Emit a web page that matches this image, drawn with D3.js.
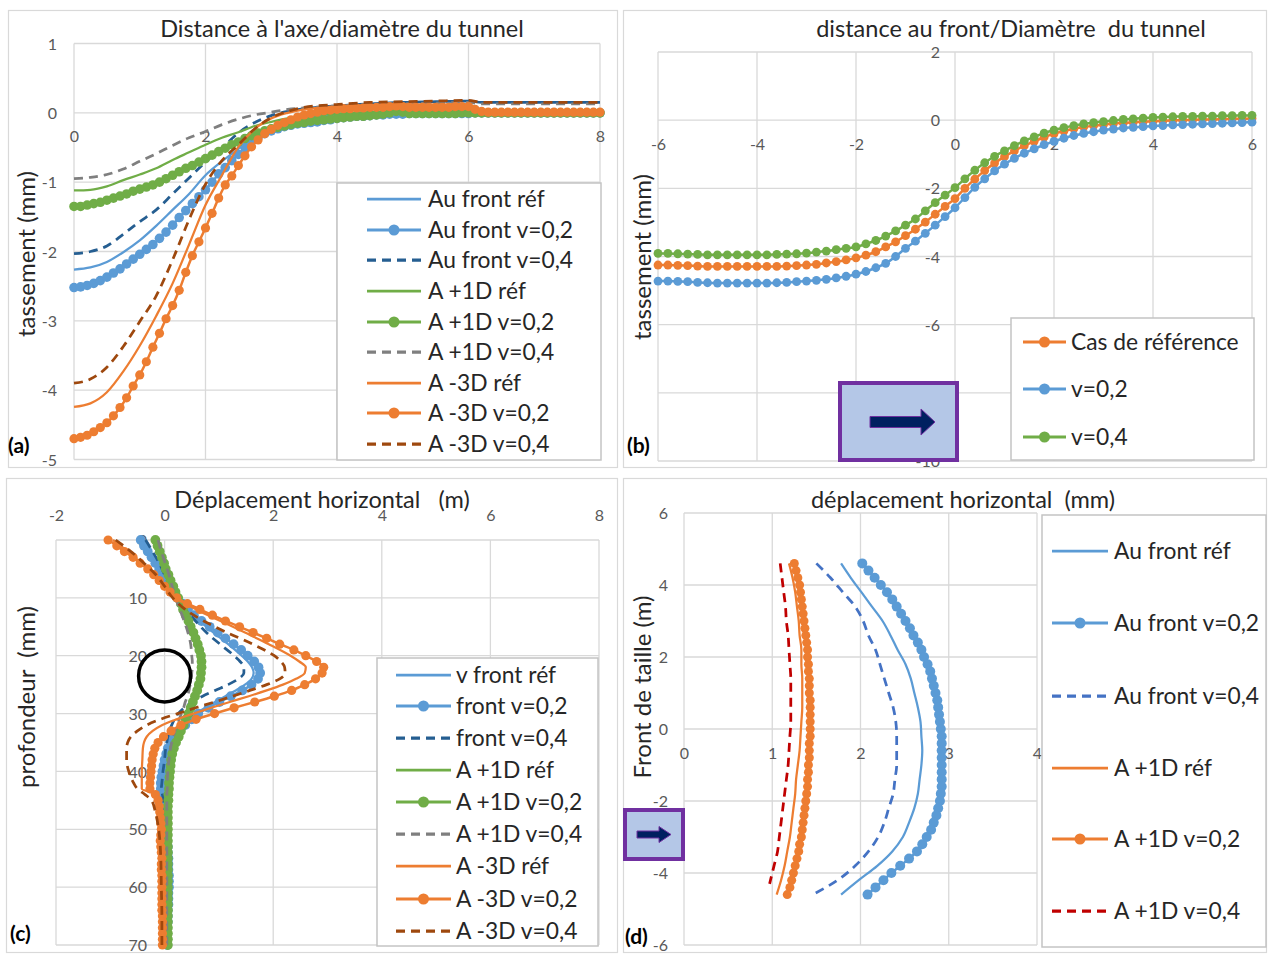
<!DOCTYPE html>
<html><head><meta charset="utf-8">
<script src="https://cdn.jsdelivr.net/npm/d3@7"></script>
<style>body{margin:0;background:#fff}svg{display:block}text{white-space:pre}</style>
</head><body>
<script>
// ---------------- DATA ----------------
// Panel (a): tassement vs distance à l'axe / diamètre
const aXTicks = [0, 2, 4, 6, 8];
const aYTicks = [1, 0, -1, -2, -3, -4, -5];
const aXf = [0,0.1,0.2,0.3,0.4,0.5,0.6,0.7,0.8,0.9,1,1.1,1.2,1.3,1.4,1.5,1.6,1.7,1.8,1.9,2,2.1,2.2,2.3,2.4,2.5,2.6,2.7,2.8,2.9,3,3.1,3.2,3.3,3.4,3.5,3.6,3.7,3.8,3.9,4,4.1,4.2,4.3,4.4,4.5,4.6,4.7,4.8,4.9,5,5.1,5.2,5.3,5.4,5.5,5.6,5.7,5.8,5.9,6,6.1,6.2,6.3,6.4,6.5,6.6,6.7,6.8,6.9,7,7.1,7.2,7.3,7.4,7.5,7.6,7.7,7.8,7.9,8];
const aXc = [0,0.25,0.5,0.75,1,1.25,1.5,1.75,2,2.25,2.5,2.75,3,3.25,3.5,4,4.5,5,5.5,6,6.2,7,8];
const aFrontRef = [-2.26,-2.23,-2.15,-2.01,-1.84,-1.63,-1.40,-1.17,-0.90,-0.70,-0.52,-0.33,-0.21,-0.13,-0.08,-0.03,0.01,0.03,0.04,0.05,0.01,0.00,0.00];
const aFrontV2 = [-2.52,-2.51,-2.49,-2.46,-2.42,-2.37,-2.31,-2.25,-2.18,-2.11,-2.04,-1.97,-1.90,-1.81,-1.72,-1.62,-1.51,-1.41,-1.31,-1.21,-1.11,-1.00,-0.88,-0.79,-0.69,-0.60,-0.50,-0.41,-0.35,-0.30,-0.26,-0.23,-0.20,-0.18,-0.16,-0.15,-0.14,-0.13,-0.11,-0.10,-0.08,-0.07,-0.06,-0.05,-0.05,-0.04,-0.03,-0.03,-0.02,-0.02,-0.02,-0.01,-0.01,-0.01,-0.01,-0.01,-0.01,-0.01,-0.01,-0.01,-0.01,0,0,0,0,0,0,0,0,0,0,0,0,0,0,0,0,0,0,0,0];
const aFrontV4 = [-2.03,-2.00,-1.92,-1.75,-1.57,-1.40,-1.17,-0.94,-0.71,-0.51,-0.29,-0.14,-0.04,0.02,0.06,0.10,0.13,0.15,0.16,0.17,0.15,0.15,0.15];
const aP1Ref = [-1.12,-1.11,-1.06,-0.97,-0.89,-0.80,-0.68,-0.57,-0.46,-0.36,-0.28,-0.19,-0.13,-0.08,-0.05,-0.01,0.01,0.02,0.02,0.03,0.00,0.00,0.00];
const aP1V2 = [-1.35,-1.35,-1.33,-1.31,-1.29,-1.26,-1.23,-1.20,-1.17,-1.13,-1.10,-1.07,-1.04,-1.00,-0.95,-0.90,-0.85,-0.80,-0.76,-0.71,-0.66,-0.61,-0.56,-0.51,-0.46,-0.42,-0.37,-0.33,-0.29,-0.26,-0.23,-0.21,-0.19,-0.17,-0.15,-0.14,-0.12,-0.11,-0.10,-0.09,-0.08,-0.07,-0.06,-0.05,-0.05,-0.04,-0.03,-0.02,0.00,0.02,0.01,-0.01,-0.01,-0.01,-0.01,-0.01,-0.01,-0.01,-0.01,0.00,0,0,0,0,0,0,0,0,0,0,0,0,0,0,0,0,0,0,0,0,0];
const aP1V4 = [-0.95,-0.93,-0.89,-0.81,-0.70,-0.59,-0.47,-0.36,-0.27,-0.17,-0.09,-0.03,0.01,0.05,0.07,0.10,0.12,0.13,0.14,0.15,0.13,0.13,0.13];
const aM3Ref = [-4.24,-4.19,-4.03,-3.73,-3.36,-2.93,-2.46,-1.90,-1.33,-0.90,-0.49,-0.23,-0.08,0.00,0.05,0.09,0.11,0.12,0.12,0.12,0.03,0.02,0.02];
const aM3V2 = [-4.70,-4.68,-4.65,-4.60,-4.54,-4.47,-4.37,-4.25,-4.11,-3.94,-3.78,-3.59,-3.38,-3.18,-2.97,-2.78,-2.56,-2.30,-2.06,-1.86,-1.66,-1.45,-1.23,-1.04,-0.91,-0.76,-0.62,-0.49,-0.39,-0.30,-0.24,-0.18,-0.14,-0.10,-0.06,-0.03,-0.01,0.01,0.03,0.04,0.05,0.06,0.06,0.07,0.07,0.08,0.08,0.08,0.09,0.10,0.09,0.08,0.08,0.08,0.08,0.08,0.08,0.08,0.09,0.09,0.09,0.05,0.02,0.01,0.01,0.01,0.01,0.01,0.01,0.01,0.01,0.01,0.01,0.01,0.01,0.01,0.01,0.01,0.01,0.01,0.01];
const aM3V4 = [-3.90,-3.84,-3.67,-3.37,-3.01,-2.64,-2.12,-1.54,-1.03,-0.69,-0.46,-0.23,-0.07,0.02,0.08,0.12,0.15,0.16,0.17,0.18,0.15,0.15,0.15];
const aNames = ["Au front réf","Au front v=0,2","Au front v=0,4","A +1D réf","A +1D v=0,2","A +1D v=0,4","A -3D réf","A -3D v=0,2","A -3D v=0,4"];

// Panel (b): tassement vs distance au front / diamètre
const bXTicks = [-6, -4, -2, 0, 2, 4, 6];
const bYTicks = [2, 0, -2, -4, -6, -8, -10];
const bX = [-6,-5.8,-5.6,-5.4,-5.2,-5,-4.8,-4.6,-4.4,-4.2,-4,-3.8,-3.6,-3.4,-3.2,-3,-2.8,-2.6,-2.4,-2.2,-2,-1.8,-1.6,-1.4,-1.2,-1,-0.8,-0.6,-0.4,-0.2,0,0.2,0.4,0.6,0.8,1,1.2,1.4,1.6,1.8,2,2.2,2.4,2.6,2.8,3,3.2,3.4,3.6,3.8,4,4.2,4.4,4.6,4.8,5,5.2,5.4,5.6,5.8,6];
const bRef = [-4.25,-4.25,-4.26,-4.27,-4.28,-4.29,-4.29,-4.29,-4.29,-4.29,-4.29,-4.29,-4.29,-4.28,-4.27,-4.25,-4.23,-4.19,-4.15,-4.10,-4.04,-3.96,-3.86,-3.72,-3.57,-3.39,-3.20,-2.99,-2.76,-2.53,-2.30,-2.00,-1.73,-1.48,-1.26,-1.07,-0.90,-0.75,-0.62,-0.50,-0.40,-0.32,-0.25,-0.20,-0.16,-0.13,-0.10,-0.08,-0.06,-0.05,-0.03,-0.02,-0.01,0.00,0.01,0.02,0.02,0.03,0.04,0.04,0.05];
const bV2 = [-4.72,-4.72,-4.73,-4.74,-4.76,-4.77,-4.78,-4.78,-4.78,-4.78,-4.78,-4.78,-4.77,-4.76,-4.74,-4.72,-4.70,-4.67,-4.63,-4.58,-4.52,-4.44,-4.33,-4.20,-4.00,-3.76,-3.55,-3.32,-3.08,-2.83,-2.57,-2.27,-1.97,-1.72,-1.49,-1.29,-1.12,-0.97,-0.84,-0.72,-0.62,-0.53,-0.45,-0.39,-0.34,-0.29,-0.26,-0.23,-0.21,-0.19,-0.17,-0.16,-0.14,-0.13,-0.12,-0.11,-0.10,-0.09,-0.08,-0.07,-0.06];
const bV4 = [-3.91,-3.91,-3.92,-3.93,-3.94,-3.95,-3.95,-3.95,-3.95,-3.95,-3.95,-3.95,-3.94,-3.93,-3.92,-3.90,-3.87,-3.84,-3.80,-3.76,-3.72,-3.63,-3.53,-3.40,-3.25,-3.08,-2.90,-2.66,-2.42,-2.20,-1.98,-1.72,-1.47,-1.25,-1.06,-0.90,-0.75,-0.61,-0.49,-0.38,-0.29,-0.22,-0.16,-0.11,-0.07,-0.04,-0.01,0.02,0.04,0.06,0.08,0.09,0.10,0.11,0.11,0.12,0.12,0.13,0.13,0.14,0.14];
const bNames = ["Cas de référence","v=0,2","v=0,4"];

// Panel (c): profondeur vs déplacement horizontal
const cXTicks = [-2, 0, 2, 4, 6, 8];
const cYTicks = [0, 10, 20, 30, 40, 50, 60, 70];
const cDm = [0,1,2,3,4,5,6,7,8,9,10,11,12,13,14,15,16,17,18,19,20,21,22,23,24,25,26,27,28,29,30,31,32,33,34,35,36,37,38,39,40,41,42,43,44,45,46,47,48,49,50,51,52,53,54,55,56,57,58,59,60,61,62,63,64,65,66,67,68,69,70];
const cDl = [0,2,4,6,8,10,12,14,16,18,20,21,22,23,24,25,26,27,28,29,30,31,32,33,34,35,36,38,40,42,43,44,45,47,50,55,60,65,70];
const cFrontRef = [-0.42,-0.28,-0.15,-0.03,0.09,0.21,0.40,0.64,0.90,1.17,1.42,1.53,1.61,1.64,1.60,1.48,1.31,1.12,0.93,0.75,0.58,0.45,0.33,0.23,0.15,0.09,0.05,-0.01,-0.05,-0.07,-0.08,-0.05,-0.02,0.01,0.03,0.06,0.07,0.06,0.05];
const cFrontV2 = [-0.44,-0.38,-0.31,-0.24,-0.17,-0.10,-0.04,0.03,0.09,0.16,0.23,0.33,0.43,0.54,0.68,0.83,0.98,1.12,1.27,1.41,1.53,1.65,1.73,1.76,1.72,1.60,1.43,1.22,1.01,0.81,0.62,0.50,0.38,0.26,0.17,0.11,0.06,0.03,0.00,-0.02,-0.04,-0.06,-0.07,-0.07,-0.04,-0.02,0.00,0.01,0.02,0.03,0.04,0.05,0.05,0.06,0.06,0.07,0.07,0.07,0.08,0.08,0.08,0.07,0.07,0.07,0.06,0.06,0.06,0.05,0.05,0.05,0.05];
const cFrontV4 = [-0.35,-0.22,-0.10,0.00,0.10,0.20,0.38,0.57,0.77,1.02,1.28,1.39,1.46,1.46,1.36,1.17,0.93,0.70,0.51,0.36,0.25,0.18,0.13,0.09,0.06,0.04,0.02,0.00,-0.03,-0.05,-0.06,-0.04,-0.02,0.00,0.02,0.04,0.05,0.05,0.04];
const cP1Ref = [-0.19,-0.11,-0.03,0.05,0.14,0.23,0.32,0.41,0.50,0.57,0.62,0.63,0.64,0.63,0.62,0.59,0.56,0.52,0.48,0.44,0.40,0.35,0.31,0.26,0.22,0.18,0.14,0.10,0.08,0.07,0.07,0.06,0.06,0.05,0.05,0.05,0.05,0.05,0.05];
const cP1V2 = [-0.17,-0.13,-0.09,-0.05,-0.01,0.02,0.07,0.11,0.16,0.20,0.25,0.30,0.34,0.39,0.44,0.48,0.53,0.57,0.61,0.64,0.67,0.68,0.68,0.67,0.66,0.63,0.60,0.56,0.52,0.48,0.44,0.39,0.35,0.30,0.26,0.21,0.17,0.14,0.12,0.11,0.10,0.09,0.08,0.08,0.07,0.07,0.06,0.06,0.06,0.06,0.06,0.06,0.06,0.06,0.06,0.06,0.06,0.06,0.06,0.06,0.06,0.06,0.06,0.06,0.06,0.06,0.06,0.06,0.06,0.06,0.06];
const cP1V4 = [-0.12,-0.06,0.01,0.08,0.14,0.20,0.28,0.36,0.43,0.48,0.50,0.51,0.51,0.50,0.49,0.47,0.45,0.42,0.38,0.35,0.31,0.27,0.23,0.19,0.16,0.13,0.11,0.08,0.06,0.05,0.05,0.04,0.04,0.04,0.04,0.04,0.04,0.04,0.04];
const cM3Ref = [-0.95,-0.68,-0.43,-0.20,0.00,0.20,0.58,1.03,1.48,1.92,2.32,2.48,2.60,2.58,2.42,2.18,1.88,1.55,1.20,0.86,0.53,0.22,-0.05,-0.22,-0.33,-0.38,-0.40,-0.41,-0.42,-0.42,-0.42,-0.14,-0.10,-0.08,-0.07,-0.06,-0.05,-0.05,-0.04];
const cM3V2 = [-1.04,-0.88,-0.74,-0.58,-0.45,-0.31,-0.20,-0.10,0.00,0.10,0.22,0.42,0.65,0.88,1.12,1.38,1.63,1.88,2.12,2.38,2.60,2.80,2.93,2.90,2.78,2.58,2.34,2.02,1.66,1.28,0.92,0.58,0.30,0.12,-0.02,-0.12,-0.18,-0.21,-0.23,-0.24,-0.25,-0.26,-0.27,-0.27,-0.17,-0.12,-0.10,-0.09,-0.08,-0.07,-0.06,-0.07,-0.08,-0.07,-0.06,-0.05,-0.06,-0.06,-0.05,-0.05,-0.05,-0.05,-0.05,-0.05,-0.05,-0.04,-0.04,-0.04,-0.04,-0.04,-0.04];
const cM3V4 = [-0.90,-0.62,-0.38,-0.16,0.00,0.15,0.38,0.72,1.15,1.62,2.02,2.14,2.21,2.22,2.12,1.88,1.57,1.25,0.92,0.57,0.24,-0.08,-0.33,-0.50,-0.62,-0.68,-0.70,-0.70,-0.66,-0.57,-0.50,-0.36,-0.24,-0.17,-0.11,-0.07,-0.06,-0.05,-0.05];
const cNames = ["v front réf","front v=0,2","front v=0,4","A +1D réf","A +1D v=0,2","A +1D v=0,4","A -3D réf","A -3D v=0,2","A -3D v=0,4"];

// Panel (d): front de taille vs déplacement horizontal
const dXTicks = [0, 1, 2, 3, 4];
const dYTicks = [6, 4, 2, 0, -2, -4, -6];
const dHm = [4.6,4.4,4.2,4,3.8,3.6,3.4,3.2,3,2.8,2.6,2.4,2.2,2,1.8,1.6,1.4,1.2,1,0.8,0.6,0.4,0.2,0,-0.2,-0.4,-0.6,-0.8,-1,-1.2,-1.4,-1.6,-1.8,-2,-2.2,-2.4,-2.6,-2.8,-3,-3.2,-3.4,-3.6,-3.8,-4,-4.2,-4.4,-4.6];
const dHl = [4.6,4.2,3.8,3.4,3,2.6,2.2,1.8,1.4,1,0.6,0.2,-0.2,-0.6,-1,-1.4,-1.8,-2.2,-2.6,-3,-3.4,-3.8,-4.2,-4.6];
const dHr = [4.6,4.2,3.8,3.4,3,2.6,2.2,1.8,1.4,1,0.6,0.2,-0.2,-0.6,-1,-1.4,-1.8,-2.2,-2.6,-3,-3.4,-3.8,-4.3];
const dFrontRef = [1.78,1.89,2.01,2.13,2.25,2.34,2.42,2.51,2.57,2.61,2.65,2.68,2.69,2.70,2.69,2.67,2.65,2.61,2.55,2.48,2.36,2.19,1.98,1.78];
const dFrontV2 = [2.02,2.09,2.16,2.23,2.30,2.36,2.41,2.46,2.51,2.56,2.60,2.65,2.69,2.72,2.76,2.79,2.81,2.83,2.85,2.87,2.88,2.89,2.90,2.91,2.92,2.92,2.92,2.92,2.92,2.92,2.92,2.92,2.91,2.90,2.88,2.86,2.83,2.80,2.75,2.70,2.64,2.55,2.45,2.35,2.26,2.17,2.08];
const dFrontV4 = [1.50,1.66,1.80,1.94,2.03,2.09,2.17,2.22,2.27,2.32,2.37,2.40,2.41,2.41,2.41,2.39,2.37,2.32,2.27,2.20,2.09,1.94,1.74,1.46];
const dP1Ref = [1.19,1.23,1.26,1.28,1.30,1.31,1.33,1.33,1.34,1.34,1.34,1.33,1.32,1.31,1.29,1.27,1.26,1.24,1.22,1.20,1.17,1.14,1.10,1.05];
const dP1V2 = [1.25,1.27,1.29,1.31,1.32,1.33,1.34,1.35,1.36,1.37,1.38,1.39,1.40,1.40,1.41,1.41,1.42,1.42,1.42,1.43,1.43,1.43,1.43,1.43,1.43,1.42,1.42,1.42,1.41,1.41,1.40,1.40,1.39,1.38,1.37,1.36,1.35,1.34,1.33,1.31,1.30,1.28,1.26,1.24,1.22,1.20,1.17];
const dP1V4 = [1.09,1.11,1.13,1.15,1.16,1.18,1.19,1.20,1.21,1.21,1.21,1.21,1.20,1.19,1.18,1.16,1.14,1.12,1.10,1.08,1.06,1.02,0.97];
const dNames = ["Au front réf","Au front v=0,2","Au front v=0,4","A +1D réf","A +1D v=0,2","A +1D v=0,4"];

// ---------------- STYLES ----------------
const BLUE = "#5B9BD5", DBLUE = "#255E91", ORANGE = "#ED7D31", BROWN = "#9E480E",
      GREEN = "#70AD47", GREY = "#7F7F7F", BLUE2 = "#4472C4", RED = "#C00000";
const FONT = "Lato, 'Open Sans', sans-serif";
const GRID = "#D9D9D9", TICK = "#595959", TXT = "#262626";
const LEG_FS = 22.8, TITLE_FS = 23.5, AX_FS = 24, TICK_FS = 16;
const solid = c => ({color: c, width: 2.25});
const mark = (c, r) => ({color: c, width: 2.5, r: r || 4.6});
const dash = c => ({color: c, width: 2.75, dash: "9,6"});

// ---------------- HELPERS ----------------
const svg = d3.select("body").append("svg").attr("width", 1268).attr("height", 954);
svg.append("rect").attr("width", 1268).attr("height", 954).attr("fill", "#fff");

function frame(x0, y0, x1, y1) {
  svg.append("rect").attr("x", x0 + 0.5).attr("y", y0 + 0.5).attr("width", x1 - x0).attr("height", y1 - y0)
    .attr("fill", "#fff").attr("stroke", GRID).attr("stroke-width", 1.2);
}
function grid(g, xS, yS, xt, yt) {
  const [y0, y1] = yS.range(), [x0, x1] = xS.range();
  g.append("g").selectAll("line").data(xt).join("line")
    .attr("x1", d => xS(d)).attr("x2", d => xS(d)).attr("y1", y0).attr("y2", y1)
    .attr("stroke", GRID).attr("stroke-width", 1.3);
  g.append("g").selectAll("line").data(yt).join("line")
    .attr("y1", d => yS(d)).attr("y2", d => yS(d)).attr("x1", x0).attr("x2", x1)
    .attr("stroke", GRID).attr("stroke-width", 1.3);
}
function styleAxis(a) {
  a.select(".domain").remove();
  a.attr("font-family", FONT).attr("font-size", TICK_FS).attr("color", TICK);
}
function xLabels(g, xS, ticks, y) {
  g.append("g").attr("transform", `translate(0,${y})`)
    .call(d3.axisBottom(xS).tickValues(ticks).tickSize(0).tickFormat(d => String(d)))
    .call(styleAxis).selectAll("text").attr("y", 0).attr("dy", "0.35em");
}
function yLabels(g, yS, ticks, x) {
  g.append("g").attr("transform", `translate(${x},0)`)
    .call(d3.axisLeft(yS).tickValues(ticks).tickSize(0).tickPadding(0).tickFormat(d => String(d)))
    .call(styleAxis).selectAll("text").attr("x", 0).attr("dy", "0.35em");
}
function series(g, pts, xS, yS, st, curve) {
  const line = d3.line().x(d => xS(d[0])).y(d => yS(d[1])).curve(curve);
  g.append("path").datum(pts).attr("d", line).attr("fill", "none")
    .attr("stroke", st.color).attr("stroke-width", st.width)
    .attr("stroke-dasharray", st.dash || null).attr("stroke-linejoin", "round");
  if (st.r) {
    g.append("g").selectAll("circle").data(pts).join("circle")
      .attr("cx", d => xS(d[0])).attr("cy", d => yS(d[1])).attr("r", st.r)
      .attr("fill", st.color);
  }
}
function legend(box, names, styles, rows, lx0, lx1, tx) {
  const g = svg.append("g");
  g.append("rect").attr("x", box[0]).attr("y", box[1]).attr("width", box[2] - box[0]).attr("height", box[3] - box[1])
    .attr("fill", "#fff").attr("stroke", "#C4C4C4").attr("stroke-width", 1.5);
  names.forEach((n, i) => {
    const st = styles[i], y = rows[i];
    g.append("line").attr("x1", lx0).attr("x2", lx1).attr("y1", y).attr("y2", y)
      .attr("stroke", st.color).attr("stroke-width", st.width + 0.5).attr("stroke-dasharray", st.dash || null);
    if (st.r) g.append("circle").attr("cx", (lx0 + lx1) / 2).attr("cy", y).attr("r", 5.5).attr("fill", st.color);
    g.append("text").attr("x", tx).attr("y", y).attr("dy", "0.35em").attr("font-family", FONT)
      .attr("font-size", LEG_FS).attr("fill", TXT).text(n);
  });
}
function title(x, y, t) {
  svg.append("text").attr("x", x).attr("y", y).attr("text-anchor", "middle").attr("font-family", FONT)
    .attr("font-size", TITLE_FS).attr("fill", TXT).text(t);
}
function vtitle(x, y, t) {
  svg.append("text").attr("transform", `translate(${x},${y}) rotate(-90)`).attr("text-anchor", "middle")
    .attr("dy", "0.35em").attr("font-family", FONT).attr("font-size", AX_FS).attr("fill", TXT).text(t);
}
function tag(x, y, t) {
  svg.append("text").attr("x", x).attr("y", y).attr("font-family", FONT).attr("font-size", 21)
    .attr("font-weight", "bold").attr("fill", "#000").text(t);
}
function arrowBox(x0, y0, x1, y1, sx0, sx1, tip, cy, sh, hh) {
  svg.append("rect").attr("x", x0).attr("y", y0).attr("width", x1 - x0).attr("height", y1 - y0)
    .attr("fill", "#B4C7E7").attr("stroke", "#7030A0").attr("stroke-width", 4);
  const p = d3.path();
  p.moveTo(sx0, cy - sh); p.lineTo(sx1, cy - sh); p.lineTo(sx1, cy - hh); p.lineTo(tip, cy);
  p.lineTo(sx1, cy + hh); p.lineTo(sx1, cy + sh); p.lineTo(sx0, cy + sh); p.closePath();
  svg.append("path").attr("d", p.toString()).attr("fill", "#002060").attr("stroke", "#7030A0").attr("stroke-width", 1);
}

// ---------------- PANEL (a) ----------------
frame(8, 10, 617, 467);
{
  const g = svg.append("g");
  const x = d3.scaleLinear().domain([0, 8]).range([74, 600]);
  const y = d3.scaleLinear().domain([-5, 1]).range([459.5, 43.5]);
  grid(g, x, y, aXTicks, aYTicks);
  xLabels(g, x, aXTicks, y(0) + 24);
  yLabels(g, y, aYTicks, 57);
  const st = [solid(BLUE), mark(BLUE, 4.8), dash(DBLUE), solid(GREEN), mark(GREEN, 4.8), dash(GREY), solid(ORANGE), mark(ORANGE, 4.6), dash(BROWN)];
  const data = [[aXc, aFrontRef], [aXf, aFrontV2], [aXc, aFrontV4], [aXc, aP1Ref], [aXf, aP1V2], [aXc, aP1V4], [aXc, aM3Ref], [aXf, aM3V2], [aXc, aM3V4]];
  data.forEach((d, i) => series(g, d3.zip(d[0], d[1]), x, y, st[i], d3.curveMonotoneX));
  title(342, 37, "Distance à l'axe/diamètre du tunnel");
  vtitle(27, 254, "tassement (mm)");
  legend([337, 183, 601, 460], aNames, st, [199, 230, 260, 291, 322, 352, 383, 413, 444], 367, 421, 428);
  tag(8, 453, "(a)");
}

// ---------------- PANEL (b) ----------------
frame(623, 10, 1266, 467);
{
  const g = svg.append("g");
  const x = d3.scaleLinear().domain([-6, 6]).range([658, 1252]);
  const y = d3.scaleLinear().domain([-10, 2]).range([461, 52]);
  grid(g, x, y, bXTicks, bYTicks);
  xLabels(g, x, bXTicks, y(0) + 24);
  yLabels(g, y, bYTicks, 940);
  const st = [mark(ORANGE, 4.4), mark(BLUE, 4.4), mark(GREEN, 4.4)];
  [bRef, bV2, bV4].forEach((v, i) => series(g, d3.zip(bX, v), x, y, st[i], d3.curveMonotoneX));
  title(1011, 37, "distance au front/Diamètre  du tunnel");
  vtitle(643, 257, "tassement (mm)");
  legend([1011, 318, 1254, 460], bNames, st, [342, 389, 437], 1023, 1066, 1071);
  arrowBox(840, 383, 957, 460, 870, 921, 935, 422, 5.5, 13);
  tag(627, 453, "(b)");
}

// ---------------- PANEL (c) ----------------
frame(6, 478, 617, 952);
{
  const g = svg.append("g");
  const x = d3.scaleLinear().domain([-2, 8]).range([56, 599]);
  const y = d3.scaleLinear().domain([0, 70]).range([540, 945]);
  grid(g, x, y, cXTicks, cYTicks);
  xLabels(g, x, cXTicks, 515);
  yLabels(g, y, cYTicks, 147);
  const st = [solid(BLUE), mark(BLUE, 4.9), dash(DBLUE), solid(GREEN), mark(GREEN, 4.9), dash(GREY), solid(ORANGE), mark(ORANGE, 4.6), dash(BROWN)];
  const data = [[cFrontRef, cDl], [cFrontV2, cDm], [cFrontV4, cDl], [cP1Ref, cDl], [cP1V2, cDm], [cP1V4, cDl], [cM3Ref, cDl], [cM3V2, cDm], [cM3V4, cDl]];
  data.forEach((d, i) => series(g, d3.zip(d[0], d[1]), x, y, st[i], d3.curveMonotoneY));
  g.append("circle").attr("cx", x(0)).attr("cy", y(23.5)).attr("r", 26)
    .attr("fill", "none").attr("stroke", "#000").attr("stroke-width", 3.5);
  title(322, 508, "Déplacement horizontal   (m)");
  vtitle(27, 697, "profondeur  (mm)");
  legend([377, 658, 598, 946], cNames, st, [675, 706, 738, 770, 802, 834, 866, 899, 931], 396, 451, 456);
  tag(10, 941, "(c)");
}

// ---------------- PANEL (d) ----------------
frame(623, 478, 1266, 952);
{
  const g = svg.append("g");
  const x = d3.scaleLinear().domain([0, 4]).range([684, 1037]);
  const y = d3.scaleLinear().domain([-6, 6]).range([945, 513]);
  grid(g, x, y, dXTicks, dYTicks);
  xLabels(g, x, dXTicks, y(0) + 24);
  yLabels(g, y, dYTicks, 668);
  const st = [solid(BLUE), mark(BLUE, 5), dash(BLUE2), solid(ORANGE), mark(ORANGE, 4.5), dash(RED)];
  const data = [[dFrontRef, dHl], [dFrontV2, dHm], [dFrontV4, dHl], [dP1Ref, dHl], [dP1V2, dHm], [dP1V4, dHr]];
  data.forEach((d, i) => series(g, d3.zip(d[0], d[1]), x, y, st[i], d3.curveMonotoneY));
  title(963, 508, "déplacement horizontal  (mm)");
  vtitle(643, 687, "Front de taille (m)");
  legend([1042, 515, 1266, 947], dNames, st, [551, 623, 696, 768, 839, 911], 1052, 1108, 1114);
  arrowBox(625, 810, 683, 859, 637, 659, 671, 834.5, 3.5, 8);
  tag(625, 944, "(d)");
}
</script>
</body></html>
